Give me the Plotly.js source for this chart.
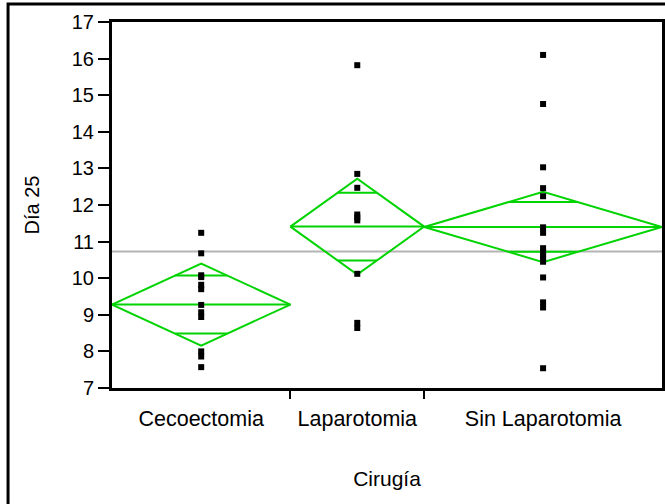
<!DOCTYPE html>
<html>
<head>
<meta charset="utf-8">
<script src="https://cdn.plot.ly/plotly-3.0.1.min.js"></script>
<style>
  html, body { margin: 0; padding: 0; background: #ffffff; }
  #chart { width: 665px; height: 504px; }
</style>
</head>
<body>
<div id="chart"></div>
<script>
// Oneway analysis of Día 25 by Cirugía, with means diamonds
const groups = ['Cecoectomia', 'Laparotomia', 'Sin Laparotomia'];

const cecoectomia = [11.24, 10.68, 10.08, 10.03, 9.82, 9.70, 9.27, 9.07, 8.94, 8.00, 7.86, 7.57];
const laparotomia = [15.82, 12.85, 12.47, 11.74, 11.66, 11.58, 10.12, 8.78, 8.64];
const sinLaparotomia = [16.10, 14.76, 13.03, 12.46, 12.24, 11.39, 11.24, 10.82, 10.72, 10.62,
                        10.55, 10.45, 10.02, 9.34, 9.20, 7.54];

const groupMeans = [9.28, 11.41, 11.40];
const ciHalfWidths = [1.12, 1.31, 0.96];
const grandMean = 10.73;

const yTickVals = [7, 8, 9, 10, 11, 12, 13, 14, 15, 16, 17];

const samples = [cecoectomia, laparotomia, sinLaparotomia];

// Each group occupies a slot on the x axis proportional to its sample size
const starts = [];
const ends = [];
let cum = 0;
samples.forEach(s => { starts.push(cum); cum += s.length; ends.push(cum); });
const total = cum;
const centers = starts.map((s, i) => (s + ends[i]) / 2);

const GREEN = '#00d400';
const traces = [];

// Grand mean reference line
traces.push({
  x: [0, total], y: [grandMean, grandMean],
  mode: 'lines', line: { color: '#b4b4b4', width: 2 },
  hoverinfo: 'skip', showlegend: false
});

// Means diamonds with overlap marks
const k = 1 - Math.SQRT1_2;
groups.forEach((g, i) => {
  const L = starts[i], R = ends[i], C = centers[i];
  const m = groupMeans[i], h = ciHalfWidths[i];
  const half = (R - L) / 2;
  traces.push({
    x: [L, C, R, C, L, null, L, R, null,
        C - k * half, C + k * half, null, C - k * half, C + k * half],
    y: [m, m + h, m, m - h, m, null, m, m, null,
        m + h * Math.SQRT1_2, m + h * Math.SQRT1_2, null,
        m - h * Math.SQRT1_2, m - h * Math.SQRT1_2],
    mode: 'lines', line: { color: GREEN, width: 2 },
    hoverinfo: 'skip', showlegend: false
  });
});

// Observations
groups.forEach((g, i) => {
  traces.push({
    x: samples[i].map(() => centers[i]),
    y: samples[i],
    mode: 'markers',
    marker: { symbol: 'square', size: 6, color: '#000000', line: { width: 0 } },
    name: g, showlegend: false
  });
});

// Invisible trace that carries the boundary ticks on the second x axis
traces.push({
  x: [0, total], y: [7, 7], xaxis: 'x2', mode: 'markers',
  marker: { opacity: 0 }, hoverinfo: 'skip', showlegend: false
});

const FONT = 'Liberation Sans, Arial, sans-serif';

const layout = {
  width: 665, height: 504,
  margin: { l: 112, r: 3, t: 22, b: 116, pad: 0 },
  paper_bgcolor: '#ffffff', plot_bgcolor: '#ffffff',
  font: { family: FONT, size: 20, color: '#000000' },
  xaxis: {
    range: [0, total], fixedrange: true,
    tickmode: 'array', tickvals: centers, ticktext: groups,
    ticks: 'outside', ticklen: 9, tickcolor: 'rgba(0,0,0,0)',
    tickfont: { size: 21.5 },
    showline: true, linecolor: '#000000', linewidth: 3, mirror: true,
    showgrid: false, zeroline: false,
    title: { text: 'Cirugía', font: { size: 21 }, standoff: 42 },
    automargin: false
  },
  xaxis2: {
    overlaying: 'x', side: 'bottom', range: [0, total], fixedrange: true,
    tickmode: 'array', tickvals: ends.slice(0, -1),
    ticks: 'outside', ticklen: 10, tickwidth: 2, tickcolor: '#000000',
    showticklabels: false, showline: false, showgrid: false, zeroline: false
  },
  yaxis: {
    range: [7, 17], fixedrange: true,
    tickmode: 'array', tickvals: yTickVals,
    ticks: 'outside', ticklen: 11, tickwidth: 2, tickcolor: '#000000',
    tickfont: { size: 20 },
    showline: true, linecolor: '#000000', linewidth: 3, mirror: true,
    showgrid: false, zeroline: false,
    title: { text: 'Día 25', font: { size: 20 }, standoff: 27 },
    automargin: false
  },
  shapes: [{
    type: 'rect', xref: 'paper', yref: 'paper',
    x0: -0.189, x1: 1.02, y0: -0.36, y1: 1.049,
    line: { color: '#000000', width: 3 }, fillcolor: 'rgba(0,0,0,0)', layer: 'below'
  }],
  showlegend: false
};

Plotly.newPlot('chart', traces, layout, { displayModeBar: false, staticPlot: true });
</script>
</body>
</html>
